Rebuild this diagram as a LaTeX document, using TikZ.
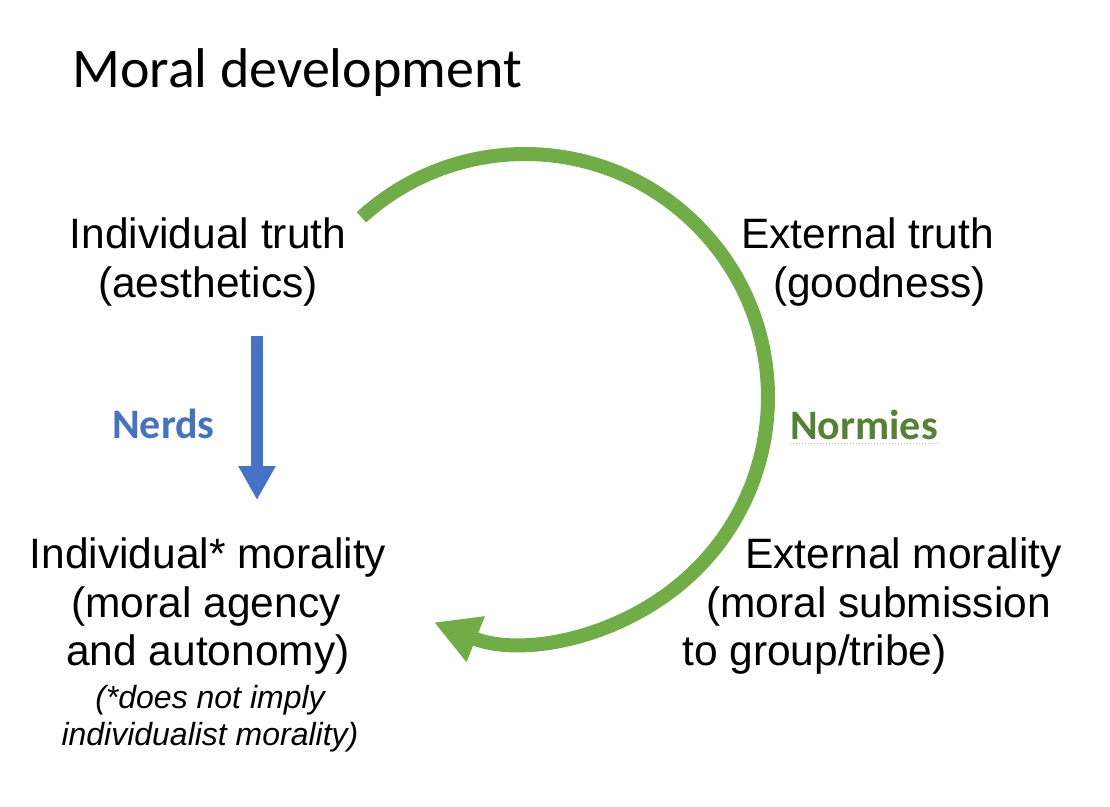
\documentclass[tikz,border=0pt]{standalone}
\usepackage{fontspec}
\setmainfont{Liberation Sans}
\newfontfamily\calibri{Carlito}
\usetikzlibrary{arrows.meta}
\definecolor{arcgreen}{HTML}{70AD47}
\definecolor{darkgreen}{HTML}{548235}
\definecolor{nblue}{HTML}{4472C4}
\tikzset{
  body/.style={inner sep=0pt, font=\fontsize{42.5}{48}\selectfont},
  note/.style={inner sep=0pt, font=\fontsize{32}{37}\selectfont\itshape},
  lbl/.style={inner sep=0pt, font=\calibri\bfseries\fontsize{42}{48}\selectfont},
}
\begin{document}
\begin{tikzpicture}[x=1pt,y=-1pt]
\useasboundingbox (0,0) rectangle (1110,806);
% title
\node[anchor=base west, inner sep=0pt, font=\calibri\fontsize{56}{64}\selectfont] (title) at (72,87) {Moral development};
% top-left
\node[body, anchor=base] (it1) at (208,248) {Individual truth};
\node[body, anchor=base] (it2) at (208,297) {(aesthetics)};
% top-right
\node[body, anchor=base west] (et1) at (741,248) {External truth};
\node[body, anchor=base west] (et2) at (773,297) {(goodness)};
% bottom-left
\node[body, anchor=base] (im1) at (208,568) {Individual* morality};
\node[body, anchor=base] (im2) at (206,617) {(moral agency};
\node[body, anchor=base] (im3) at (208,665) {and autonomy)};
\node[note, anchor=base] (n1) at (210,708) {(*does not imply};
\node[note, anchor=base] (n2) at (210,745) {individualist morality)};
% bottom-right
\node[body, anchor=base west] (em1) at (745,568) {External morality};
\node[body, anchor=base west] (em2) at (706,617) {(moral submission};
\node[body, anchor=base west] (em3) at (682,665) {to group/tribe)};
% labels
\node[lbl, text=nblue, anchor=base west] (nerds) at (112,438) {Nerds};
\node[lbl, text=darkgreen, anchor=base west] (normies) at (790,439) {Normies};
\draw[red!35, dotted, line width=1pt] (normies.base west) ++(0,4) -- ++(148,0);
% blue arrow
\coordinate (bs) at (257,336);
\coordinate (be) at (257,500);
\draw[nblue, line width=12pt, -{Triangle[length=34pt,width=35pt]}] (bs) -- (be);
% green arc
\coordinate (c) at (525,397);
\draw[arcgreen, line width=14pt, -{Triangle[length=45pt,width=46pt]}]
  ([shift={(-132.3:243)}]c) arc[start angle=-132.3, end angle=112, radius=243];
\end{tikzpicture}
\end{document}
